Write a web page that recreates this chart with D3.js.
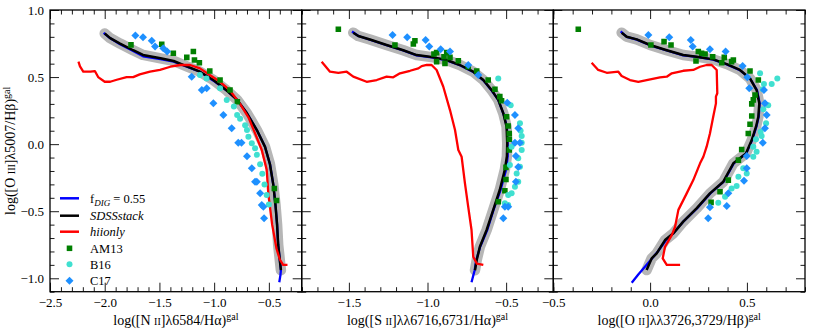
<!DOCTYPE html>
<html><head><meta charset="utf-8">
<script src="https://cdn.jsdelivr.net/npm/d3@7"></script>
<style>
body{margin:0;background:#fff}
svg{display:block}
text{font-family:"Liberation Serif","Times New Roman",serif;fill:#000}
</style>
</head><body><svg id="c" width="830" height="332"></svg>
<script>
// ---------------- data (x, log([O III]/Hb)) ----------------
const yTicks = [-1.0, -0.5, 0.0, 0.5, 1.0];
const xTicksNII = [-2.5, -2.0, -1.5, -1.0, -0.5];
const xTicksSII = [-1.5, -1.0, -0.5];
const xTicksOII = [-0.5, 0.0, 0.5];

// SDSS stack (black) per panel
const stackNII = [[-2.00,0.825],[-1.95,0.79],[-1.86,0.75],[-1.74,0.70],[-1.65,0.665],[-1.49,0.64],[-1.37,0.62],[-1.25,0.58],[-1.13,0.54],[-1.01,0.48],[-0.885,0.40],[-0.79,0.33],[-0.70,0.23],[-0.61,0.105],[-0.535,-0.02],[-0.49,-0.15],[-0.46,-0.30],[-0.44,-0.45],[-0.425,-0.60],[-0.415,-0.75],[-0.39,-0.94]];
const stackSII = [[-1.472,0.831],[-1.44,0.806],[-1.366,0.78],[-1.26,0.739],[-1.154,0.70],[-1.069,0.664],[-0.963,0.647],[-0.878,0.627],[-0.794,0.59],[-0.709,0.54],[-0.645,0.478],[-0.592,0.403],[-0.55,0.33],[-0.518,0.23],[-0.497,0.13],[-0.493,0.006],[-0.495,-0.09],[-0.508,-0.19],[-0.54,-0.34],[-0.582,-0.49],[-0.624,-0.64],[-0.667,-0.765],[-0.687,-0.864],[-0.698,-0.94]];
const stackOII = [[-0.147,0.831],[-0.121,0.801],[-0.069,0.781],[0.0,0.739],[0.086,0.70],[0.171,0.664],[0.24,0.652],[0.326,0.632],[0.396,0.597],[0.464,0.553],[0.516,0.49],[0.55,0.403],[0.564,0.304],[0.559,0.204],[0.547,0.13],[0.525,0.03],[0.495,-0.069],[0.43,-0.143],[0.378,-0.28],[0.309,-0.367],[0.24,-0.479],[0.171,-0.578],[0.12,-0.665],[0.077,-0.715],[0.034,-0.814],[0.008,-0.852],[-0.018,-0.939]];

// f_DIG = 0.55 model (blue)
const dignNII = [[-2.01,0.83],[-1.96,0.795],[-1.86,0.745],[-1.74,0.695],[-1.65,0.655],[-1.49,0.633],[-1.37,0.615],[-1.25,0.578],[-1.13,0.54],[-1.01,0.475],[-0.885,0.40],[-0.79,0.33],[-0.70,0.23],[-0.61,0.105],[-0.535,-0.02],[-0.49,-0.15],[-0.46,-0.30],[-0.44,-0.45],[-0.425,-0.60],[-0.415,-0.75],[-0.39,-0.94],[-0.395,-0.98],[-0.405,-1.03]];
const digSII = [[-1.48,0.84],[-1.44,0.806],[-1.366,0.778],[-1.26,0.737],[-1.154,0.698],[-1.069,0.662],[-0.963,0.645],[-0.878,0.625],[-0.794,0.588],[-0.709,0.538],[-0.645,0.476],[-0.592,0.40],[-0.55,0.33],[-0.518,0.23],[-0.495,0.13],[-0.49,0.006],[-0.49,-0.09],[-0.50,-0.19],[-0.535,-0.34],[-0.58,-0.49],[-0.62,-0.64],[-0.665,-0.765],[-0.69,-0.864],[-0.70,-0.94],[-0.72,-1.03]];
const digOII = [[-0.152,0.84],[-0.121,0.80],[-0.069,0.779],[0.0,0.737],[0.086,0.698],[0.171,0.662],[0.24,0.65],[0.326,0.63],[0.396,0.595],[0.464,0.551],[0.516,0.488],[0.552,0.403],[0.566,0.304],[0.561,0.204],[0.549,0.13],[0.527,0.03],[0.497,-0.069],[0.432,-0.143],[0.38,-0.28],[0.311,-0.367],[0.242,-0.479],[0.171,-0.578],[0.12,-0.665],[0.08,-0.72],[0.04,-0.80],[0.0,-0.87],[-0.03,-0.92],[-0.06,-0.97],[-0.095,-1.033]];

// HII only (red)
const hiiNII = [[-2.24,0.615],[-2.226,0.58],[-2.196,0.54],[-2.13,0.54],[-2.09,0.545],[-2.06,0.50],[-2.0,0.465],[-1.95,0.465],[-1.89,0.48],[-1.80,0.50],[-1.74,0.50],[-1.68,0.52],[-1.586,0.54],[-1.495,0.553],[-1.40,0.577],[-1.31,0.59],[-1.22,0.59],[-1.13,0.565],[-1.04,0.515],[-0.946,0.465],[-0.855,0.40],[-0.763,0.30],[-0.687,0.20],[-0.626,0.08],[-0.565,-0.044],[-0.52,-0.19],[-0.505,-0.37],[-0.47,-0.60],[-0.43,-0.78],[-0.40,-0.86],[-0.37,-0.90],[-0.33,-0.90]];
const hiiSII = [[-1.673,0.615],[-1.62,0.54],[-1.567,0.532],[-1.514,0.54],[-1.472,0.503],[-1.387,0.465],[-1.323,0.478],[-1.26,0.503],[-1.218,0.498],[-1.175,0.528],[-1.111,0.547],[-1.058,0.565],[-1.037,0.582],[-1.005,0.59],[-0.974,0.59],[-0.942,0.553],[-0.90,0.43],[-0.857,0.254],[-0.825,0.105],[-0.804,-0.044],[-0.783,-0.094],[-0.762,-0.29],[-0.741,-0.467],[-0.72,-0.64],[-0.709,-0.84],[-0.687,-0.89],[-0.645,-0.90]];
const hiiOII = [[-0.302,0.607],[-0.268,0.553],[-0.224,0.532],[-0.164,0.54],[-0.147,0.508],[-0.104,0.478],[-0.061,0.465],[-0.018,0.478],[0.051,0.498],[0.086,0.503],[0.112,0.528],[0.171,0.547],[0.223,0.553],[0.258,0.577],[0.292,0.59],[0.318,0.59],[0.344,0.553],[0.347,0.379],[0.34,0.354],[0.34,0.304],[0.326,0.204],[0.309,0.08],[0.292,-0.019],[0.275,-0.094],[0.258,-0.143],[0.223,-0.268],[0.189,-0.367],[0.146,-0.49],[0.129,-0.616],[0.112,-0.678],[0.077,-0.765],[0.065,-0.852],[0.086,-0.90],[0.155,-0.90]];

// AM13 (green squares)
const am13NII = [[-1.76,0.74],[-1.479,0.744],[-1.373,0.677],[-1.25,0.647],[-1.19,0.69],[-1.18,0.627],[-1.135,0.607],[-1.04,0.545],[-0.946,0.478],[-0.855,0.403],[-0.788,0.316],[-0.45,-0.33],[-0.43,-0.42]];
const am13SII = [[-1.567,0.856],[-1.207,0.739],[-1.09,0.746],[-1.08,0.771],[-0.959,0.672],[-0.942,0.682],[-0.895,0.652],[-0.878,0.682],[-0.942,0.615],[-0.857,0.647],[-0.889,0.602],[-0.804,0.622],[-0.741,0.577],[-0.687,0.545],[-0.614,0.478],[-0.571,0.409],[-0.54,0.354],[-0.529,0.324],[-0.497,0.204],[-0.487,0.135],[-0.48,0.08],[-0.48,0.036],[-0.48,-0.044],[-0.501,-0.173],[-0.501,-0.263],[-0.508,-0.347],[-0.55,-0.43]];
const am13OII = [[-0.371,0.856],[0.004,0.739],[0.072,0.764],[0.108,0.739],[0.249,0.69],[0.266,0.677],[0.284,0.672],[0.323,0.652],[0.237,0.62],[0.37,0.607],[0.383,0.647],[0.421,0.615],[0.43,0.627],[0.516,0.545],[0.559,0.478],[0.542,0.366],[0.533,0.33],[0.525,0.30],[0.525,0.21],[0.516,0.148],[0.507,0.08],[0.473,-0.04],[0.456,-0.119],[0.404,-0.268],[0.361,-0.355],[0.315,-0.434]];

// B16 (turquoise circles)
const b16NII = [[-1.13,0.515],[-1.07,0.49],[-0.946,0.416],[-0.885,0.33],[-0.82,0.28],[-0.79,0.217],[-0.763,0.19],[-0.717,0.14],[-0.70,0.105],[-0.687,0.055],[-0.656,0.006],[-0.626,-0.03],[-0.61,-0.08],[-0.58,-0.15],[-0.56,-0.22],[-0.54,-0.30],[-0.52,-0.38],[-0.50,-0.45]];
const b16SII = [[-0.55,0.49],[-0.471,0.29],[-0.412,0.155],[-0.408,0.10],[-0.401,0.06],[-0.401,0.01],[-0.465,-0.02],[-0.401,-0.044],[-0.423,-0.106],[-0.412,-0.168],[-0.476,-0.156],[-0.433,-0.218],[-0.423,-0.28],[-0.444,-0.318],[-0.465,-0.367],[-0.487,-0.38],[-0.508,-0.44],[-0.487,-0.454]];
const b16OII = [[0.568,0.528],[0.657,0.49],[0.628,0.448],[0.588,0.448],[0.582,0.409],[0.61,0.29],[0.585,0.26],[0.599,0.155],[0.571,0.093],[0.547,0.036],[0.576,0.06],[0.533,-0.02],[0.55,-0.057],[0.533,-0.094],[0.481,-0.18],[0.499,-0.218],[0.456,-0.243],[0.447,-0.312],[0.421,-0.33],[0.387,-0.392],[0.352,-0.437]];

// C17 (dodger-blue diamonds)
const c17NII = [[-1.72,0.81],[-1.65,0.796],[-1.57,0.77],[-1.54,0.727],[-1.465,0.714],[-1.43,0.69],[-1.205,0.503],[-1.113,0.403],[-1.068,0.416],[-1.007,0.304],[-0.916,0.217],[-0.84,0.118],[-0.78,0.01],[-0.75,0.01],[-0.70,-0.09],[-0.656,-0.18],[-0.626,-0.28],[-0.61,-0.28],[-0.58,-0.367],[-0.565,-0.454],[-0.55,-0.467],[-0.544,-0.553]];
const c17SII = [[-1.222,0.814],[-1.129,0.796],[-1.012,0.776],[-0.989,0.727],[-0.916,0.707],[-0.857,0.69],[-0.741,0.59],[-0.677,0.515],[-0.493,0.309],[-0.444,0.217],[-0.423,0.118],[-0.444,0.01],[-0.412,0.01],[-0.438,-0.089],[-0.423,-0.17],[-0.438,-0.28],[-0.508,-0.467],[-0.487,-0.467],[-0.518,-0.553]];
const c17OII = [[-0.009,0.814],[0.099,0.796],[0.21,0.776],[0.22,0.727],[0.309,0.707],[0.39,0.69],[0.478,0.582],[0.502,0.498],[0.512,0.416],[0.588,0.403],[0.593,0.304],[0.602,0.217],[0.593,0.118],[0.582,0.01],[0.499,-0.089],[0.499,-0.18],[0.485,-0.272],[0.404,-0.367],[0.396,-0.462],[0.309,-0.471],[0.30,-0.553]];

const legendLabels = ["fDIG", "SDSSstack", "hiionly", "AM13", "B16", "C17"];

// ---------------- layout ----------------
const svg = d3.select("#c");
const yTop = 10, yBottom = 291.7;
const panels = [
  {x0:50, x1:301.7, domain:[-2.5,-0.2], ticks:xTicksNII, stack:stackNII, dig:dignNII, hii:hiiNII, am:am13NII, b:b16NII, c:c17NII, lab:["log([N ","II","]λ6584/Hα)"]},
  {x0:301.7, x1:553.3, domain:[-1.8,-0.2], ticks:xTicksSII, stack:stackSII, dig:digSII, hii:hiiSII, am:am13SII, b:b16SII, c:c17SII, lab:["log([S ","II","]λλ6716,6731/Hα)"]},
  {x0:553.3, x1:805, domain:[-0.5,0.8], ticks:xTicksOII, stack:stackOII, dig:digOII, hii:hiiOII, am:am13OII, b:b16OII, c:c17OII, lab:["log([O ","II","]λλ3726,3729/Hβ)"]}
];
const y = d3.scaleLinear().domain([-1.1, 1.0]).range([yBottom, yTop]);
const fmt = d3.format(".1f");
const minorRange = (a, b) => d3.range(Math.ceil(a*10-1e-6), Math.floor(b*10+1e-6)+1).map(v => v/10);

const colStack = "#000", colDig = "#0000ff", colHii = "#ff0000", colAM = "#007f00", colB = "#40e0d0", colC = "#1e90ff", colBand = "#b6b6b6";
const sqSym = d3.symbol().type(d3.symbolSquare).size(31);
const diaSym = d3.symbol().type(d3.symbolSquare).size(32);

panels.forEach((p, i) => {
  const x = d3.scaleLinear().domain(p.domain).range([p.x0, p.x1]);
  const g = svg.append("g");
  const clipId = "clip" + i;
  svg.append("clipPath").attr("id", clipId).append("rect")
    .attr("x", p.x0).attr("y", yTop).attr("width", p.x1 - p.x0).attr("height", yBottom - yTop);
  const line = d3.line().x(d => x(d[0])).y(d => y(d[1]));
  const data = g.append("g").attr("clip-path", `url(#${clipId})`);

  data.append("path").datum(p.stack).attr("d", line).attr("fill", "none")
    .attr("stroke", colBand).attr("stroke-width", 10.5).attr("stroke-linejoin", "round").attr("stroke-linecap", "round");
  data.append("path").datum(p.dig).attr("d", line).attr("fill", "none")
    .attr("stroke", colDig).attr("stroke-width", 2.3).attr("stroke-linejoin", "round");
  data.append("path").datum(p.stack).attr("d", line).attr("fill", "none")
    .attr("stroke", colStack).attr("stroke-width", 2.5).attr("stroke-linejoin", "round");
  data.append("path").datum(p.hii).attr("d", line).attr("fill", "none")
    .attr("stroke", colHii).attr("stroke-width", 2.3).attr("stroke-linejoin", "round");

  data.selectAll(".am").data(p.am).join("path")
    .attr("d", sqSym).attr("transform", d => `translate(${x(d[0])},${y(d[1])})`).attr("fill", colAM);
  data.selectAll(".b").data(p.b).join("circle")
    .attr("cx", d => x(d[0])).attr("cy", d => y(d[1])).attr("r", 3).attr("fill", colB);
  data.selectAll(".c").data(p.c).join("path")
    .attr("d", diaSym).attr("transform", d => `translate(${x(d[0])},${y(d[1])}) rotate(45)`).attr("fill", colC);

  // axes (ticks inward)
  const minX = minorRange(p.domain[0], p.domain[1]);
  const majX = minX.filter(v => Math.abs(Math.round(v*2) - v*2) < 1e-6);
  const addAxis = (gen, tr, vals, size, labels) => {
    const a = svg.append("g").attr("transform", tr)
      .call(gen.tickValues(vals).tickSizeInner(-size).tickSizeOuter(0).tickPadding(labels ? 6 : 0)
        .tickFormat(labels ? (d => labels.some(t => Math.abs(t-d) < 1e-6) ? fmt(d) : "") : ""));
    a.select(".domain").remove();
    a.selectAll("line").attr("stroke", "#000").attr("stroke-width", 0.9);
    a.selectAll("text").style("font-size", "13px").style("font-family", "'Liberation Serif', serif");
    return a;
  };
  addAxis(d3.axisBottom(x), `translate(0,${yBottom})`, minX.filter(v => !majX.includes(v)), 4.5, null);
  addAxis(d3.axisBottom(x), `translate(0,${yBottom})`, majX, 9, p.ticks);
  addAxis(d3.axisTop(x), `translate(0,${yTop})`, minX.filter(v => !majX.includes(v)), 4.5, null);
  addAxis(d3.axisTop(x), `translate(0,${yTop})`, majX, 9, null);
  const minY = minorRange(-1.1, 1.0);
  const majY = minY.filter(v => Math.abs(Math.round(v*2) - v*2) < 1e-6);
  addAxis(d3.axisLeft(y), `translate(${p.x0},0)`, minY.filter(v => !majY.includes(v)), 4.5, null);
  addAxis(d3.axisLeft(y), `translate(${p.x0},0)`, majY, 9, i === 0 ? yTicks : null);
  addAxis(d3.axisRight(y), `translate(${p.x1},0)`, minY.filter(v => !majY.includes(v)), 4.5, null);
  addAxis(d3.axisRight(y), `translate(${p.x1},0)`, majY, 9, null);

  svg.append("rect").attr("x", p.x0).attr("y", yTop).attr("width", p.x1 - p.x0).attr("height", yBottom - yTop)
    .attr("fill", "none").attr("stroke", "#000").attr("stroke-width", 1.3);

  // x label
  const t = svg.append("text").attr("x", (p.x0 + p.x1) / 2).attr("y", 325)
    .attr("text-anchor", "middle").style("font-size", "14px");
  t.append("tspan").text(p.lab[0]);
  t.append("tspan").style("font-size", "10px").text(p.lab[1]);
  t.append("tspan").text(p.lab[2]);
  t.append("tspan").attr("dy", -5.5).style("font-size", "10px").text("gal");
});

// y label
const yl = svg.append("text").attr("transform", `translate(15,${(yTop+yBottom)/2}) rotate(-90)`)
  .attr("text-anchor", "middle").style("font-size", "14px");
yl.append("tspan").text("log([O ");
yl.append("tspan").style("font-size", "10px").text("III");
yl.append("tspan").text("]λ5007/Hβ)");
yl.append("tspan").attr("dy", -5.5).style("font-size", "10px").text("gal");

// legend
const lg = svg.append("g");
const lgY = [198.3, 215.7, 231.7, 248.3, 264.3, 280.7];
const lgLine = [colDig, colStack, colHii];
lgLine.forEach((c, k) => {
  lg.append("line").attr("x1", 60).attr("x2", 79).attr("y1", lgY[k]).attr("y2", lgY[k])
    .attr("stroke", c).attr("stroke-width", 2.5);
});
lg.append("path").attr("d", sqSym).attr("transform", `translate(69.5,${lgY[3]})`).attr("fill", colAM);
lg.append("circle").attr("cx", 69.5).attr("cy", lgY[4]).attr("r", 3).attr("fill", colB);
lg.append("path").attr("d", diaSym).attr("transform", `translate(69.5,${lgY[5]}) rotate(45)`).attr("fill", colC);
const lt0 = lg.append("text").attr("x", 90).attr("y", lgY[0] + 4.3).style("font-size", "12.5px");
lt0.append("tspan").text("f");
lt0.append("tspan").attr("dy", 3).style("font-size", "9px").style("font-style", "italic").text("DIG");
lt0.append("tspan").attr("dy", -3).text(" = 0.55");
[1, 2].forEach(k => lg.append("text").attr("x", 90).attr("y", lgY[k] + 4.3)
  .style("font-size", "12.5px").style("font-style", "italic").text(legendLabels[k]));
[3, 4, 5].forEach(k => lg.append("text").attr("x", 90).attr("y", lgY[k] + 4.3)
  .style("font-size", "12.5px").text(legendLabels[k]));
</script></body></html>
